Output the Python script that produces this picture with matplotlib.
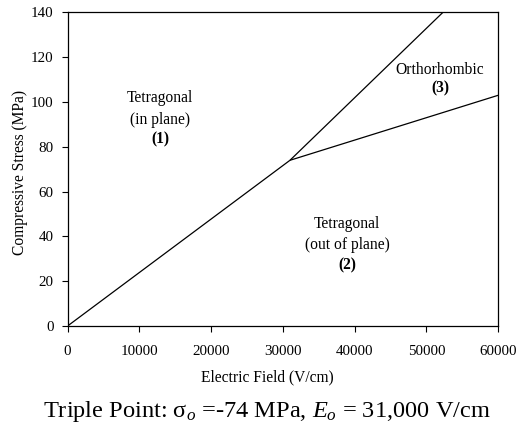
import numpy as np
import matplotlib.pyplot as plt

plt.rcParams['font.family'] = ['Liberation Serif', 'DejaVu Serif']
plt.rcParams['mathtext.fontset'] = 'custom'
plt.rcParams['mathtext.rm'] = 'Liberation Serif'
plt.rcParams['mathtext.it'] = 'Liberation Serif:italic'

# phase boundaries (electric field V/cm, compressive stress MPa)
triple_E = 31000
triple_s = 74
b1_E = [0, triple_E]          # tetragonal in-plane / out-of-plane
b1_s = [0, triple_s]
b2_E = [triple_E, 52300]      # tetragonal in-plane / orthorhombic
b2_s = [triple_s, 140]
b3_E = [triple_E, 60000]      # orthorhombic / tetragonal out-of-plane
b3_s = [triple_s, 103]

xticks = [0, 10000, 20000, 30000, 40000, 50000, 60000]
yticks = [0, 20, 40, 60, 80, 100, 120, 140]

fig = plt.figure(figsize=(5.21, 4.29), dpi=100)
ax = fig.add_axes([0.1296, 0.240, 0.8264, 0.731])

for E, s in [(b1_E, b1_s), (b2_E, b2_s), (b3_E, b3_s)]:
    ax.plot(E, s, color='black', lw=0.9, solid_capstyle='butt')

ax.set_xlim(0, 60000)
ax.set_ylim(0, 140)
ax.set_xticks(xticks)
ax.set_yticks(yticks)
ax.tick_params(direction='out', length=4, width=0.8, labelsize=10.8)
ax.tick_params(axis='x', pad=10)
ax.tick_params(axis='y', pad=6)
for sp in ax.spines.values():
    sp.set_linewidth(0.9)

fig.text(0.513, 0.121, 'Electric Field (V/cm)', ha='center', va='center', fontsize=11.2)
fig.text(20 / 521, 0.597, 'Compressive Stress (MPa)', ha='center', va='center',
         rotation=90, fontsize=11.2)

fs = 11.2
ax.text(12900, 101.8, 'Tetragonal', ha='center', va='center', fontsize=fs)
ax.text(12900, 92.0, '(in plane)', ha='center', va='center', fontsize=fs)
ax.text(12900, 83.5, '(1)', ha='center', va='center', fontsize=fs, weight='bold')
ax.text(51900, 114.3, 'Orthorhombic', ha='center', va='center', fontsize=fs)
ax.text(51900, 106.3, '(3)', ha='center', va='center', fontsize=fs, weight='bold')
ax.text(38950, 45.5, 'Tetragonal', ha='center', va='center', fontsize=fs)
ax.text(38950, 36.2, '(out of plane)', ha='center', va='center', fontsize=fs)
ax.text(38950, 27.2, '(2)', ha='center', va='center', fontsize=fs, weight='bold')

fig.text(0.513, 0.04, r'Triple Point: $\mathrm{\sigma}_o$ =-74 MPa, $E_o$ = 31,000 V/cm',
         ha='center', va='center', fontsize=17.6)

fig.savefig('out.png', dpi=100)
